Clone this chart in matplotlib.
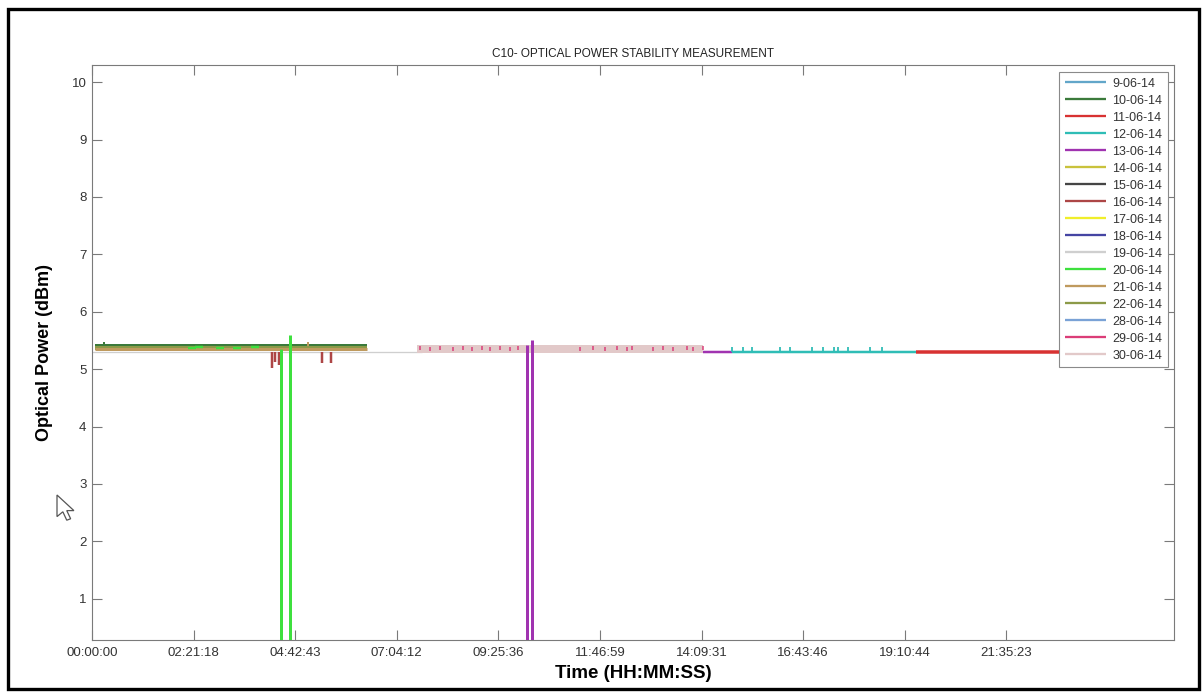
import matplotlib

matplotlib.use("Agg")
import matplotlib.pyplot as plt
from matplotlib.patches import Polygon, Rectangle

plt.rcParams["font.family"] = ["Liberation Sans", "DejaVu Sans"]

# --- data (x in tick intervals: 0 = 00:00:00, 1 = 02:21:18, ...) -------------------
tick_pos = [0, 1, 2, 3, 4, 5, 6, 7, 8, 9]
tick_labels = ["00:00:00", "02:21:18", "04:42:43", "07:04:12", "09:25:36",
               "11:46:59", "14:09:31", "16:43:46", "19:10:44", "21:35:23"]

days = ["9-06-14", "10-06-14", "11-06-14", "12-06-14", "13-06-14", "14-06-14",
        "15-06-14", "16-06-14", "17-06-14", "18-06-14", "19-06-14", "20-06-14",
        "21-06-14", "22-06-14", "28-06-14", "29-06-14", "30-06-14"]
colors = ["#62a6c9", "#3b7a3b", "#d83232", "#2fbdb6", "#a033b0", "#c9c23c",
          "#454545", "#ad4646", "#f0ee2a", "#4545a3", "#cfcfcf", "#3ee03e",
          "#bf9a5e", "#8c9a48", "#7aa2d6", "#db3d78", "#e2c9c9"]

# each day's steady trace: start, end, level (dBm)
run_start = [0.03, 0.03, 8.11, 6.30, 6.01, 0.03, 0.03, 0.03, 0.03, 0.03,
             0.00, 0.03, 0.03, 0.03, 3.20, 3.20, 3.20]
run_end = [2.71, 2.71, 9.95, 8.11, 6.30, 2.71, 2.71, 2.71, 2.71, 2.71,
           3.25, 2.71, 2.71, 2.71, 6.01, 6.01, 6.01]
run_level = [5.37, 5.40, 5.30, 5.30, 5.30, 5.37, 5.37, 5.37, 5.37, 5.37,
             5.30, 5.37, 5.345, 5.375, 5.35, 5.35, 5.35]

# 20-06-14 drop-outs
d20_x = [1.865, 1.953]
d20_top = [5.35, 5.60]
d20_bottom = [0.0, 0.0]
# 20-06-14 short bursts inside the band
d20_burst_x = [0.98, 1.05, 1.26, 1.43, 1.60]
d20_burst_y = [5.36, 5.38, 5.36, 5.37, 5.38]

# 13-06-14 drop-outs
d13_x = [4.28, 4.33]
d13_top = [5.42, 5.50]
d13_bottom = [0.0, 0.0]

# 16-06-14 dips
d16_x = [1.77, 1.805, 1.84, 2.26, 2.35]
d16_bottom = [5.02, 5.12, 5.08, 5.11, 5.11]
d16_top = [5.30, 5.30, 5.30, 5.30, 5.30]

# 12-06-14 upward blips
d12_x = [6.30, 6.41, 6.50, 6.77, 6.87, 7.09, 7.20, 7.30, 7.34, 7.44, 7.66, 7.78]
d12_top = [5.38, 5.38, 5.38, 5.38, 5.38, 5.38, 5.38, 5.38, 5.38, 5.38, 5.38, 5.38]

# 10-06-14 / 21-06-14 single blips
d10_blip_x, d10_blip_top = [0.12], [5.48]
d21_blip_x, d21_blip_top = [2.13], [5.47]

# 29-06-14 readings scattered inside the 30-06-14 band
d29_x = [3.23, 3.33, 3.43, 3.55, 3.65, 3.74, 3.84, 3.92, 4.02, 4.11, 4.19,
         4.80, 4.93, 5.05, 5.17, 5.27, 5.32, 5.52, 5.62, 5.72, 5.86, 5.92, 6.01]
d29_y = [5.36, 5.35, 5.36, 5.35, 5.36, 5.35, 5.36, 5.35, 5.36, 5.35, 5.36,
         5.35, 5.36, 5.35, 5.36, 5.35, 5.36, 5.35, 5.36, 5.35, 5.36, 5.35, 5.36]

# --- styles --------------------------------------------------------------------------
PX = 0.72  # one pixel in points at dpi 100
widths = [2, 4, 3.5, 2.5, 2.5, 2, 2, 2, 2, 2, 1.3, 2, 3, 4, 2, 2, 8]
zorders = [1, 2, 3, 3, 3, 1, 1, 1, 1, 1, 1.5, 1, 2.2, 2.1, 1, 1, 2]

fig = plt.figure(figsize=(12.04, 6.93), dpi=100)
ax = fig.add_axes([92 / 1204, 1 - 640 / 693, (1174 - 92) / 1204, (640 - 65) / 693])

for i, day in enumerate(days):
    ax.plot([run_start[i], run_end[i]], [run_level[i], run_level[i]],
            color=colors[i], lw=widths[i] * PX, solid_capstyle="butt",
            zorder=zorders[i], label=day)

c = dict(zip(days, colors))
ax.vlines(d16_x, d16_bottom, d16_top, color=c["16-06-14"], lw=2.5 * PX, zorder=4)
ax.vlines(d20_x, d20_bottom, d20_top, color=c["20-06-14"], lw=3 * PX, zorder=5)
ax.vlines(d13_x, d13_bottom, d13_top, color=c["13-06-14"], lw=3 * PX, zorder=5)
ax.vlines(d12_x, [5.30] * len(d12_x), d12_top, color=c["12-06-14"], lw=1.8 * PX, zorder=4)
ax.vlines(d10_blip_x, [5.40], d10_blip_top, color=c["10-06-14"], lw=2 * PX, zorder=4)
ax.vlines(d21_blip_x, [5.40], d21_blip_top, color=c["21-06-14"], lw=2 * PX, zorder=4)
ax.plot(d20_burst_x, d20_burst_y, ls="none", marker="_", ms=6, mew=2.5 * PX,
        color=c["20-06-14"], zorder=3)
ax.plot(d29_x, d29_y, ls="none", marker="|", ms=3.5, mew=1.5 * PX,
        color=c["29-06-14"], zorder=3)

ax.set_xlim(0, 10.65)
ax.set_ylim(0.28, 10.3)
ax.set_xticks(tick_pos)
ax.set_xticklabels(tick_labels)
ax.set_yticks(range(1, 11))

for s in ax.spines.values():
    s.set_color("#7a7a7a")
    s.set_linewidth(0.8)
ax.tick_params(direction="in", length=7.5, width=0.8, color="#7a7a7a",
               labelsize=9.5, labelcolor="#333333", top=True, right=True)
ax.tick_params(axis="x", pad=5)
ax.tick_params(axis="y", pad=4)

ax.set_title("C10- OPTICAL POWER STABILITY MEASUREMENT", fontsize=8.5,
             color="#222222", pad=6)
ax.set_xlabel("Time (HH:MM:SS)", fontsize=13.5, fontweight="bold")
ax.set_ylabel("Optical Power (dBm)", fontsize=13, fontweight="bold")
ax.xaxis.set_label_coords(0.5, -0.044)
ax.yaxis.set_label_coords(-0.036, 0.5)

leg = ax.legend(loc="upper right", bbox_to_anchor=(0.9945, 0.988), borderaxespad=0,
                fontsize=9, labelspacing=0.4, handlelength=3.3, handletextpad=0.5,
                borderpad=0.45, fancybox=False, framealpha=1, edgecolor="#8a8a8a")
leg.set_zorder(10)
leg.get_frame().set_linewidth(0.8)
for h in leg.legend_handles:
    h.set_linewidth(2.3 * PX)
for t in leg.get_texts():
    t.set_color("#333333")

# screenshot frame and mouse pointer
fig.patches.append(Rectangle((8 / 1204, 1 - 689 / 693), 1191 / 1204, 680 / 693,
                             transform=fig.transFigure, fill=False, lw=2.4,
                             edgecolor="black"))
cur = [(0, 0), (0, 18), (4.5, 14), (7.5, 21), (10.5, 19.8), (7.5, 13), (13, 13)]
fig.patches.append(Polygon([((57 + 1.3 * px) / 1204, 1 - (495 + 1.2 * py) / 693)
                            for px, py in cur],
                           closed=True, transform=fig.transFigure, facecolor="white",
                           edgecolor="#555555", lw=0.9))

fig.savefig("out.png", dpi=100)
